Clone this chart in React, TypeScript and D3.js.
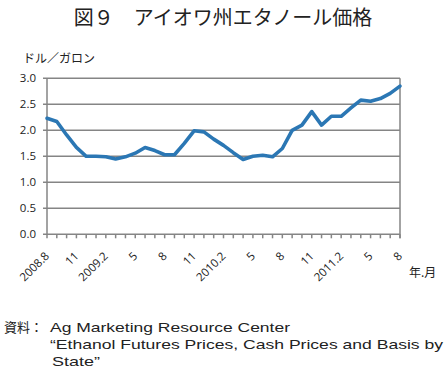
import React from "react";
import * as d3 from "d3";

const title = "図９　アイオワ州エタノール価格";
const yUnit = "ドル／ガロン";
const xUnit = "年.月";
const sourceHead = "資料：";
const sourceLines = [
  "Ag Marketing Resource Center",
  "“Ethanol Futures Prices, Cash Prices and Basis by",
  "State”",
];

// monthly, 2008.8 – 2011.8
const months = [
  "2008.8", "2008.9", "2008.10", "2008.11", "2008.12", "2009.1", "2009.2", "2009.3", "2009.4",
  "2009.5", "2009.6", "2009.7", "2009.8", "2009.9", "2009.10", "2009.11", "2009.12", "2010.1",
  "2010.2", "2010.3", "2010.4", "2010.5", "2010.6", "2010.7", "2010.8", "2010.9", "2010.10",
  "2010.11", "2010.12", "2011.1", "2011.2", "2011.3", "2011.4", "2011.5", "2011.6", "2011.7",
  "2011.8",
];
const prices = [
  2.23, 2.17, 1.91, 1.67, 1.5, 1.5, 1.49, 1.45, 1.49, 1.56, 1.67, 1.61, 1.53, 1.53, 1.75, 1.99,
  1.97, 1.83, 1.71, 1.57, 1.44, 1.5, 1.52, 1.49, 1.65, 2.0, 2.1, 2.36, 2.1, 2.27, 2.27, 2.43,
  2.58, 2.56, 2.61, 2.71, 2.85,
];
const xTickLabels = ["2008.8", "11", "2009.2", "5", "8", "11", "2010.2", "5", "8", "11", "2011.2", "5", "8"];
const yTicks = [0, 0.5, 1.0, 1.5, 2.0, 2.5, 3.0];

export default function App() {
  const W = 446, H = 379;
  const left = 47, right = 400, top = 78.3, bottom = 234.3;
  const x = d3.scaleLinear().domain([0, months.length - 1]).range([left, right]);
  const y = d3.scaleLinear().domain([0, 3]).range([bottom, top]);
  const line = d3.line<number>().x((_, i) => x(i)).y((d) => y(d));
  const gray = "#858585";
  const latin = "'Open Sans', 'Liberation Sans', sans-serif";
  const srcFont = "'Liberation Sans', Arial, sans-serif";
  const jp = "'Noto Sans CJK JP', sans-serif";
  const srcX = [50, 50, 52];
  const srcY = [331.5, 348.7, 366];
  const srcLen = [240, 393, 48];

  return (
    <svg width={W} height={H} style={{ position: "absolute", left: 0, top: 0, background: "#fff" }}>
      <text x={223} y={25} textAnchor="middle" fontFamily={jp} fontSize={20} fill="#222">{title}</text>
      <text x={23} y={63} fontFamily={jp} fontSize={12} fill="#222">{yUnit}</text>

      {yTicks.map((t) => (
        <g key={t}>
          <line x1={left - 4} x2={right} y1={y(t)} y2={y(t)} stroke={gray} strokeWidth={1.5} />
          <text x={36} y={y(t)} dy="0.36em" textAnchor="end" fontFamily={latin} fontSize={11.5} fill="#222">
            {t.toFixed(1)}
          </text>
        </g>
      ))}
      <line x1={left} x2={left} y1={top} y2={bottom} stroke={gray} strokeWidth={1.5} />
      <line x1={right} x2={right} y1={top} y2={bottom + 4} stroke={gray} strokeWidth={1.5} />
      {months.map((m, i) => (
        <line key={m} x1={x(i)} x2={x(i)} y1={bottom} y2={bottom + 4} stroke={gray} strokeWidth={1.5} />
      ))}
      {xTickLabels.map((lab, k) => (
        <text
          key={k}
          transform={`translate(${x(k * 3)},${bottom + 19.5}) rotate(-45)`}
          textAnchor="end"
          dy="0.36em"
          fontFamily={latin}
          fontSize={11.5}
          fill="#222"
        >
          {lab}
        </text>
      ))}
      <text x={409} y={277} fontFamily={jp} fontSize={12} fill="#222">{xUnit}</text>

      <path d={line(prices) || ""} fill="none" stroke="#2b77b4" strokeWidth={3.6} strokeLinejoin="round" strokeLinecap="round" />

      <text x={4} y={srcY[0]} fontFamily={jp} fontSize={13} fill="#222">{sourceHead}</text>
      {sourceLines.map((s, i) => (
        <text
          key={i}
          x={srcX[i]}
          y={srcY[i]}
          fontFamily={srcFont}
          fontSize={13.5}
          fill="#222"
          textLength={srcLen[i]}
          lengthAdjust="spacingAndGlyphs"
        >
          {s}
        </text>
      ))}
    </svg>
  );
}
